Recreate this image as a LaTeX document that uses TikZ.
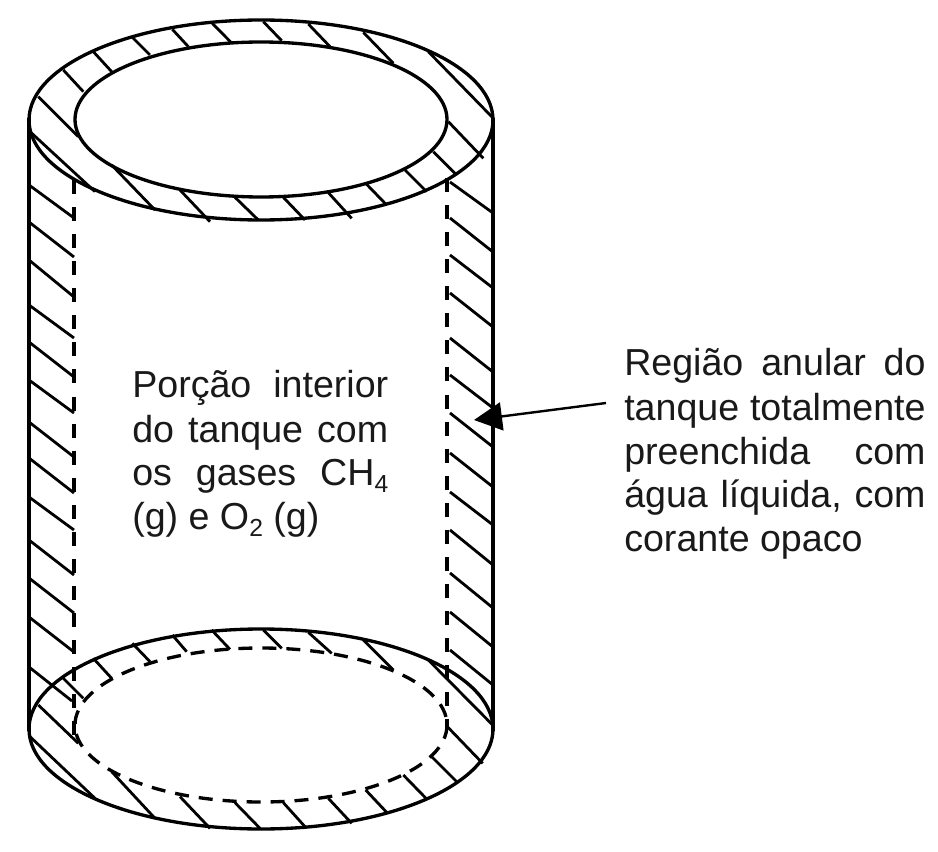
\documentclass[tikz,border=0pt]{standalone}
\usepackage{fontspec}
\setmainfont{Liberation Sans}
\usetikzlibrary{arrows.meta}
\newcommand{\hlines}[1]{\foreach \a/\b/\c/\d in {#1} \draw[hatch] (\a,\b) -- (\c,\d);}
\newcommand{\zlines}[2]{\foreach \a/\b/\c/\d in {#2} \draw[hatch] ({\a/3},{#1+\b/3}) -- ({\c/3},{#1+\d/3});}
\newcommand{\subn}[1]{\raisebox{-0.2em}{\fontsize{18.5}{18.5}\selectfont #1}}
\tikzset{
  x=0.75pt,y=-0.75pt,
  wall/.style={line width=2.5pt,black},
  hatch/.style={line width=2.1pt,black},
  dashline/.style={line width=2.5pt,black,dash pattern=on 10.5pt off 9.8pt},
  lab/.style={anchor=base west,inner sep=0pt,font=\fontsize{28.2}{33}\selectfont,text=black!90},
}
\begin{document}
\begin{tikzpicture}
\useasboundingbox (0,0) rectangle (938,852);
\fill[white] (0,0) rectangle (938,852);
% top ring
\draw[wall] (261,120) ellipse [x radius=232,y radius=100];
\draw[wall] (261,119.5) ellipse [x radius=186,y radius=77.5];
% bottom ring
\draw[wall] (261,729) ellipse [x radius=232,y radius=100];
\draw[wall,dash pattern=on 10.5pt off 7.5pt] (261,725) ellipse [x radius=186,y radius=77];
% walls
\draw[wall] (29,118) -- (29,731);
\draw[wall] (493,118) -- (493,731);
\draw[dashline] (74,180) -- (74,740);
\draw[dashline] (447,178) -- (447,727);
% wall hatching
\hlines{29/185/74/218,29/222/74/257,29/260/74/297,29/305/74/338,29/342/74/377,29/380/74/413,29/422/74/457,29/458/74/493,29/497/74/530,29/540/74/575,29/578/74/613,29/617/74/652,29/667/72/701}
\hlines{450/182/493/213,450/218/493/252,450/255/493/288,450/293/493/327,450/338/493/372,450/375/493/408,450/413/493/447,450/453/493/487,450/492/493/525,450/530/493/565,450/573/493/608,450/612/493/647,450/650/493/685}
% top ring hatching
\zlines{0}{190/210/250/275,280/155/335/215,397/112/450/165,517/88/565/140,635/68/693/127,790/65/845/122,925/72/990/140,1090/97/1180/190,1285/155/1480/355,1345/365/1450/475,1300/455/1370/525,1215/510/1280/575,1097/550/1160/615,985/578/1055/655,850/592/915/660,705/592/775/660,540/570/630/665,335/495/465/630,115/290/235/410,90/395/285/575}
% bottom ring hatching
\zlines{600}{190/235/250/295,280/175/335/235,397/130/450/185,517/105/560/155,635/90/690/148,790/90/845/145,925/97/995/160,1090/120/1180/210,1285/180/1478/375,1342/380/1448/490,1295/470/1370/545,1210/525/1280/597,1097/570/1160/637,985/595/1055/670,850/608/915/680,705/608/780/685,540/590/630/685,335/515/465/655,115/315/235/430,90/410/285/595}
% left label
\node[lab] (l1) at (132,397) {\hbox to 192pt{Porção\hfil interior}};
\node[lab] (l2) at (132,442) {\hbox to 192pt{do\hfil tanque\hfil com}};
\node[lab] (l3) at (132,485) {\hbox to 192pt{os\hfil gases\hfil CH\subn{4}}};
\node[lab] (l4) at (132,529) {(g) e O\subn{2} (g)};
% right label
\node[lab] (r1) at (624,375) {\hbox to 226pt{Região\hfil anular\hfil do}};
\node[lab] (r2) at (624,420) {\hbox to 226pt{tanque\hfil totalmente}};
\node[lab] (r3) at (624,464) {\hbox to 226pt{preenchida\hfil com}};
\node[lab] (r4) at (624,507) {\hbox to 226pt{água\hfil líquida,\hfil com}};
\node[lab] (r5) at (624,551) {corante opaco};
% arrow
\coordinate (from) at (606,403);
\coordinate (to) at (474,420);
\draw[line width=1.8pt,-{Triangle[length=21pt,width=21pt]}] (from) -- (to);
\end{tikzpicture}
\end{document}
